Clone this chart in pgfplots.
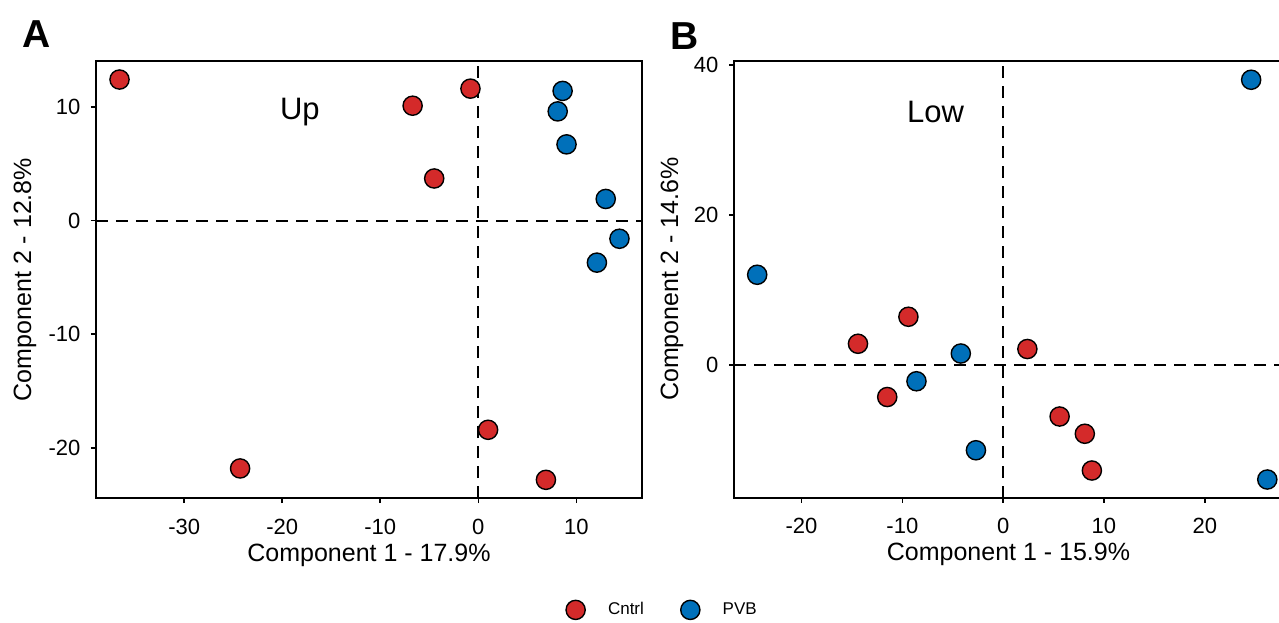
\documentclass[border=0pt]{standalone}
\usepackage{fontspec}
\setmainfont{Liberation Sans}
\usepackage{pgfplots}
\pgfplotsset{compat=1.18}

\definecolor{cntrl}{RGB}{212,42,42}
\definecolor{pvb}{RGB}{0,112,186}

\pgfplotsset{
  pca/.style={
    scale only axis, anchor=north west,
    axis line style={line width=1pt},
    tick align=outside, major tick length=2.5pt,
    major tick style={line width=0.8pt, black},
    xtick pos=left, ytick pos=left,
    /pgf/number format/assume math mode=true,
    tick label style={font=\fontsize{11}{13}\selectfont},
    label style={font=\fontsize{12.5}{15}\selectfont},
    xticklabel shift=4.5pt, yticklabel shift=1.8pt,
    legend image code/.code={\draw[##1] plot coordinates {(0pt,0pt)}; \path (-6pt,0pt) (14pt,0pt);},
  },
  ctl/.style={only marks, mark=*, mark size=4.8pt,
    mark options={draw=black, line width=0.7pt, fill=cntrl}},
  pv/.style={only marks, mark=*, mark size=4.8pt,
    mark options={draw=black, line width=0.7pt, fill=pvb}},
  zero/.style={forget plot, black, line width=1pt, dash pattern=on 6pt off 4pt},
}

\begin{document}
\begin{tikzpicture}
\path[use as bounding box] (0pt,0pt) rectangle (639.5pt,-311pt);

% panel A: upper
\begin{axis}[pca,
  at={(48pt,-30.5pt)}, width=273pt, height=218.5pt,
  xmin=-39.0, xmax=16.7, ymin=-24.4, ymax=14.03,
  xtick={-30,-20,-10,0,10}, ytick={-20,-10,0,10},
  xlabel={Component 1 - 17.9\%}, ylabel={Component 2 - 12.8\%},
  xlabel style={at={(axis description cs:0.5,-0.1304)}, anchor=center},
  ylabel style={at={(axis description cs:-0.130,0.5)}, anchor=center},
  legend columns=2,
  legend style={at={(axis description cs:1.0366,-0.256)}, anchor=center,
    draw=none, fill=none, font=\fontsize{8.5}{10}\selectfont,
    /tikz/every even column/.append style={column sep=15pt}},
]
\addplot[ctl] coordinates {
  (-36.6,12.4) (-6.7,10.1) (-0.8,11.6) (-4.5,3.7)
  (-24.3,-21.8) (1.0,-18.4) (6.9,-22.8)
};
\addlegendentry{Cntrl}
\addplot[pv] coordinates {
  (8.6,11.4) (8.1,9.6) (9.0,6.7) (13.0,1.9) (14.4,-1.6) (12.1,-3.7)
};
\addlegendentry{PVB}
\addplot[zero] coordinates {(-39.0,0) (16.7,0)};
\addplot[zero] coordinates {(0,-24.4) (0,14.03)};
\node[font=\fontsize{15.5}{18}\selectfont] at (axis cs:-18.2,9.5) {Up};
\end{axis}

% panel B: lower
\begin{axis}[pca,
  at={(367pt,-30.5pt)}, width=274.5pt, height=218.25pt,
  xmin=-26.7, xmax=27.76, ymin=-17.7, ymax=40.5,
  xtick={-20,-10,0,10,20}, ytick={0,20,40},
  xlabel={Component 1 - 15.9\%}, ylabel={Component 2 - 14.6\%},
  xlabel style={at={(axis description cs:0.5,-0.1306)}, anchor=center},
  ylabel style={at={(axis description cs:-0.113,0.5)}, anchor=center},
]
\addplot[ctl] coordinates {
  (-14.4,2.8) (-9.4,6.4) (-11.5,-4.3) (2.4,2.1) (5.6,-6.9) (8.1,-9.2) (8.8,-14.1)
};
\addplot[pv] coordinates {
  (-24.4,12.0) (-4.2,1.5) (-8.6,-2.2) (-2.7,-11.4) (24.6,38.0) (26.2,-15.3)
};
\addplot[zero] coordinates {(-26.7,0) (27.76,0)};
\addplot[zero] coordinates {(0,-17.7) (0,40.5)};
\node[font=\fontsize{15.5}{18}\selectfont] at (axis cs:-6.7,33.7) {Low};
\end{axis}

\node[font=\fontsize{19.5}{22}\selectfont\bfseries] at (18.5pt,-17pt) {A};
\node[font=\fontsize{19.5}{22}\selectfont\bfseries] at (342.5pt,-18pt) {B};
\end{tikzpicture}
\end{document}
